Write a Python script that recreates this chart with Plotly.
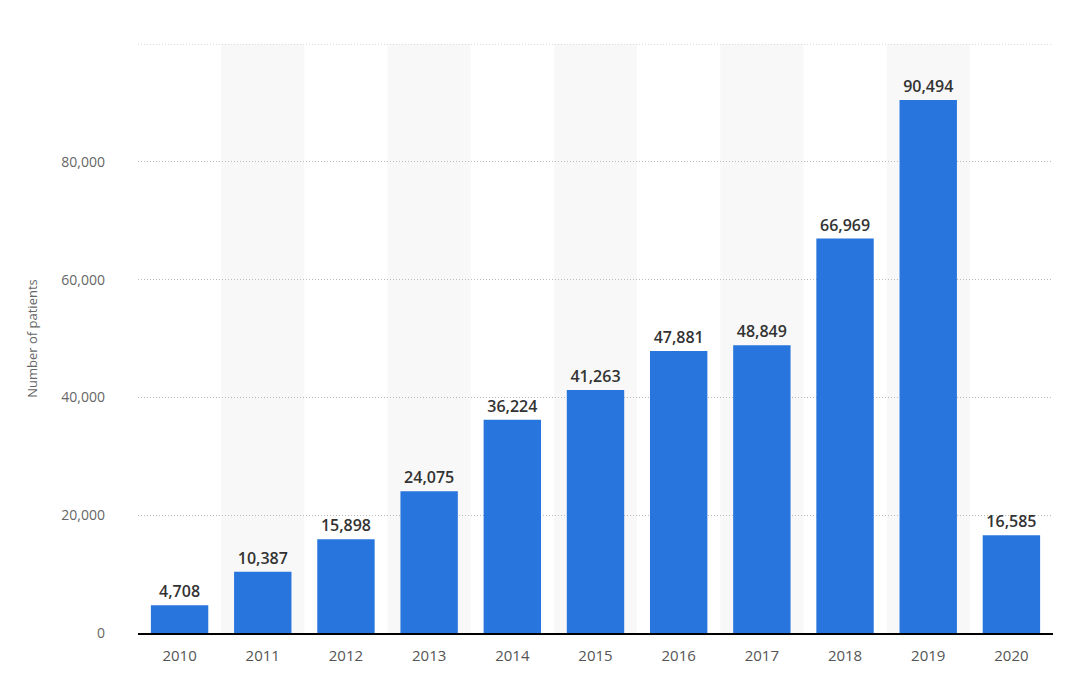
import plotly.graph_objects as go

years = ['2010', '2011', '2012', '2013', '2014', '2015', '2016', '2017', '2018', '2019', '2020']
patients = [4708, 10387, 15898, 24075, 36224, 41263, 47881, 48849, 66969, 90494, 16585]
y_ticks = [0, 20000, 40000, 60000, 80000, 100000]
y_tick_labels = ['0', '20,000', '40,000', '60,000', '80,000', '']
y_max = 100000

fig = go.Figure()

fig.add_trace(
    go.Bar(
        x=years,
        y=patients,
        width=0.69,
        marker=dict(color='#2875DD', line=dict(width=0)),
        texttemplate='%{y:,}',
        textposition='outside',
        textfont=dict(family='Open Sans', size=16, color='#333333', weight=600),
        cliponaxis=False,
        showlegend=False
    )
)

# light grey band behind every second year
for i in range(1, len(years), 2):
    fig.add_shape(
        type='rect',
        xref='x', yref='paper',
        x0=i - 0.5, x1=i + 0.5,
        y0=0, y1=1,
        fillcolor='#F8F8F8',
        line=dict(width=0),
        layer='below'
    )

# top gridline (plotly drops the one on the range edge)
fig.add_shape(
    type='line',
    xref='paper', yref='y',
    x0=0, x1=1, y0=y_max, y1=y_max,
    line=dict(color='#BBBBBB', width=1, dash='1px,2px'),
    layer='below'
)

# page body has an 8px margin, so the figure is drawn 8px smaller
fig.update_layout(
    width=1049,
    height=670,
    margin=dict(l=130, r=4, t=36, b=45),
    paper_bgcolor='white',
    plot_bgcolor='white',
    font=dict(family='Open Sans', color='#666666'),
    xaxis=dict(
        type='category',
        showgrid=False,
        showline=True,
        linecolor='#000000',
        linewidth=1.5,
        ticks='',
        tickfont=dict(size=15, color='#555555'),
        ticklabelstandoff=8
    ),
    yaxis=dict(
        range=[0, y_max],
        tickvals=y_ticks,
        ticktext=y_tick_labels,
        showgrid=True,
        gridcolor='#BBBBBB',
        griddash='1px,2px',
        gridwidth=1,
        zeroline=False,
        showline=False,
        ticks='',
        ticklabelstandoff=32,
        tickfont=dict(size=14, color='#666666'),
        title=dict(text='Number of patients', font=dict(size=13, color='#666666'), standoff=20)
    )
)

fig.write_html("out.html")
